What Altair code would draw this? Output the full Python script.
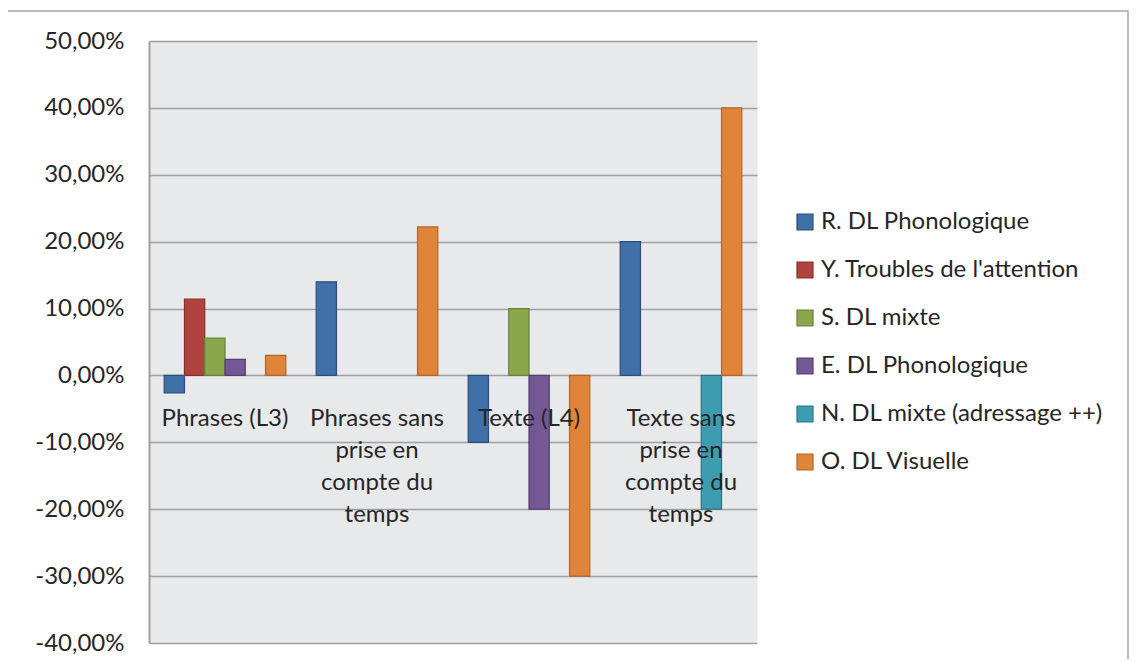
import altair as alt
import pandas as pd

categories = ["Phrases (L3)", "Phrases sans prise en compte du temps",
              "Texte (L4)", "Texte sans prise en compte du temps"]
category_labels = ["Phrases (L3)", "Phrases sans\nprise en\ncompte du\ntemps",
                   "Texte (L4)", "Texte sans\nprise en\ncompte du\ntemps"]
series = ["R. DL Phonologique", "Y. Troubles de l'attention", "S. DL mixte",
          "E. DL Phonologique", "N.  DL mixte (adressage ++)", "O. DL Visuelle"]

r_vals = [-0.026, 0.14, -0.10, 0.20]
y_vals = [0.114, 0.0, 0.0, 0.0]
s_vals = [0.056, 0.0, 0.10, 0.0]
e_vals = [0.024, 0.0, -0.20, 0.0]
n_vals = [0.0, 0.0, 0.0, -0.20]
o_vals = [0.03, 0.222, -0.30, 0.40]

fill_colors = ["#4070a8", "#b0423f", "#8aa74b", "#735893", "#3e9cb1", "#e0843a"]
stroke_colors = ["#2b4f7c", "#8a2e2b", "#66813a", "#543f71", "#2a7485", "#b2652a"]
y_ticks = [-0.4, -0.3, -0.2, -0.1, 0.0, 0.1, 0.2, 0.3, 0.4, 0.5]

all_vals = [r_vals, y_vals, s_vals, e_vals, n_vals, o_vals]
rows = []
for s, vals in zip(series, all_vals):
    for c, v in zip(categories, vals):
        if v != 0:
            rows.append({"category": c, "series": s, "value": v})
df = pd.DataFrame(rows)
lab_df = pd.DataFrame({"category": categories, "label": category_labels})

FONT = "Lato"
TXT = "#262626"

x_scale = alt.Scale(domain=categories, paddingInner=0.2, paddingOuter=0.1)
y_scale = alt.Scale(domain=[-0.4, 0.5], nice=False)

legend = alt.Legend(orient="none", legendX=644, legendY=169, title=None,
                    symbolType="square", symbolSize=256, symbolStrokeWidth=1.2,
                    labelFont=FONT, labelFontSize=24, labelColor=TXT,
                    rowPadding=24, labelOffset=4, padding=0, labelLimit=400)

bars = alt.Chart(df).mark_bar(strokeWidth=1.2).encode(
    x=alt.X("category:N", scale=x_scale, axis=None, sort=categories),
    xOffset=alt.XOffset("series:N", scale=alt.Scale(domain=series, paddingInner=0, paddingOuter=0)),
    y=alt.Y("value:Q", scale=y_scale, title=None,
            axis=alt.Axis(values=y_ticks,
                          labelExpr="replace(replace(format(datum.value, '.2%'), '.', ','), '\u2212', '-')",
                          grid=True, gridColor="#a0a0a0", gridWidth=1.6,
                          domain=True, domainColor="#a0a0a0", domainWidth=2,
                          ticks=False, labelPadding=25, labelFont=FONT,
                          labelFontSize=24, labelColor=TXT)),
    fill=alt.Fill("series:N", scale=alt.Scale(domain=series, range=fill_colors), legend=legend),
    stroke=alt.Stroke("series:N", scale=alt.Scale(domain=series, range=stroke_colors), legend=legend),
)

labels = alt.Chart(lab_df).mark_text(
    font=FONT, fontSize=24, color=TXT, baseline="alphabetic", align="center",
    dy=51, lineBreak="\n", lineHeight=32,
).encode(
    x=alt.X("category:N", scale=x_scale, axis=None, sort=categories),
    y=alt.datum(0),
    text="label:N",
)

frame = alt.Chart(alt.Data(values=[{"a": 1}])).mark_rect(
    fill="transparent", stroke="#a6a6a6", strokeWidth=1.5,
).encode(
    x=alt.value(-142), x2=alt.value(979), y=alt.value(-30), y2=alt.value(680),
)

chart = alt.layer(frame, bars, labels).properties(
    width=608, height=602,
    autosize=alt.AutoSizeParams(type="none"),
    padding={"left": 141, "top": 33, "right": 372, "bottom": 16},
    background="white",
).configure_view(fill="#e8e9eb", stroke="transparent")

chart.save("out.html", embed_options={"renderer": "svg", "actions": False})
